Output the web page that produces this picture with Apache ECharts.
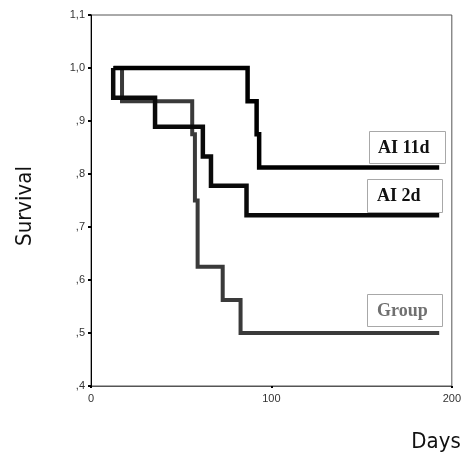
<!DOCTYPE html>
<html>
<head>
<meta charset="utf-8">
<script src="https://cdn.jsdelivr.net/npm/echarts@6/dist/echarts.min.js"></script>
<style>
  html, body { margin: 0; padding: 0; background: #fff; }
  #chart { width: 464px; height: 459px; }
</style>
</head>
<body>
<div id="chart"></div>
<script>
// Survival data: [days, survival]
const ai11d = [[12.5, 1.0], [86.8, 0.9375], [91.8, 0.875], [93.2, 0.8125], [193, 0.8125]];
const ai2d = [[12.3, 1.0], [12.3, 0.944], [35.5, 0.889], [62, 0.833], [66.5, 0.778], [86.2, 0.722], [193, 0.722]];
const group = [[12.3, 1.0], [17.2, 0.9375], [56.1, 0.875], [57.6, 0.75], [59.1, 0.625], [73, 0.5625], [82.9, 0.5], [193, 0.5]];
const seriesNames = ['AI 11d', 'AI 2d', 'Group'];
const yTicks = { min: 0.4, max: 1.1, interval: 0.1 };
const xTicks = { min: 0, max: 200, interval: 100 };
const xTitle = 'Days';
const yTitle = 'Survival';

const chart = echarts.init(document.getElementById('chart'), null, { renderer: 'canvas' });

function fmtY(v) {
  let s = v.toFixed(1).replace('.', ',');
  if (s.startsWith('0')) s = s.slice(1);
  return s;
}

const labelFont = 'bold 18px "Liberation Serif", "Times New Roman", serif';

function labelBox(x, y, w, h, text, color, tx, ty) {
  return {
    type: 'group',
    children: [
      { type: 'rect', shape: { x: x + 0.5, y: y + 0.5, width: w, height: h },
        style: { fill: '#fff', stroke: '#a8a8a8', lineWidth: 1 }, z: 10 },
      { type: 'text', x: tx, y: ty, z: 11,
        style: { text: text, font: labelFont, fill: color, align: 'left', verticalAlign: 'middle' } }
    ]
  };
}

const option = {
  animation: false,
  backgroundColor: '#fff',
  grid: { left: 91, right: 12, top: 15, bottom: 73, show: true, borderColor: '#555', borderWidth: 1 },
  xAxis: {
    type: 'value', min: xTicks.min, max: xTicks.max, interval: xTicks.interval,
    axisLine: { show: true, lineStyle: { color: '#555', width: 1 } },
    axisTick: { show: true, length: 2, lineStyle: { color: '#000', width: 2 } },
    axisLabel: { color: '#333', fontSize: 11, fontFamily: 'Liberation Sans, Arial, sans-serif', margin: 7 },
    splitLine: { show: false }
  },
  yAxis: {
    type: 'value', min: yTicks.min, max: yTicks.max, interval: yTicks.interval,
    axisLine: { show: true, lineStyle: { color: '#000', width: 1 } },
    axisTick: { show: true, length: 3, lineStyle: { color: '#000', width: 2 } },
    axisLabel: { color: '#333', fontSize: 11, fontFamily: 'Liberation Sans, Arial, sans-serif', margin: 6, formatter: fmtY },
    splitLine: { show: false }
  },
  series: [
    { name: seriesNames[2], type: 'line', step: 'end', data: group, symbol: 'none',
      lineStyle: { color: '#3a3a3a', width: 4, join: 'miter', cap: 'butt' }, z: 2 },
    { name: seriesNames[1], type: 'line', step: 'end', data: ai2d, symbol: 'none',
      lineStyle: { color: '#0a0a0a', width: 4.5, join: 'miter', cap: 'butt' }, z: 3 },
    { name: seriesNames[0], type: 'line', step: 'end', data: ai11d, symbol: 'none',
      lineStyle: { color: '#000', width: 4.5, join: 'miter', cap: 'butt' }, z: 4 }
  ],
  graphic: [
    labelBox(369, 131, 76, 32, seriesNames[0], '#111', 378, 148),
    labelBox(367, 179, 75, 33, seriesNames[1], '#111', 377, 196),
    labelBox(367, 294, 75, 32, seriesNames[2], '#707070', 377, 311),
    { type: 'text', x: 25, y: 206, rotation: Math.PI / 2,
      style: { text: yTitle, font: '22px "DejaVu Sans Condensed", "DejaVu Sans", sans-serif', fill: '#111', align: 'center', verticalAlign: 'middle' } },
    { type: 'text', x: 436, y: 442,
      style: { text: xTitle, font: '22px "DejaVu Sans Condensed", "DejaVu Sans", sans-serif', fill: '#111', align: 'center', verticalAlign: 'middle' } }
  ]
};

chart.setOption(option);
</script>
</body>
</html>
